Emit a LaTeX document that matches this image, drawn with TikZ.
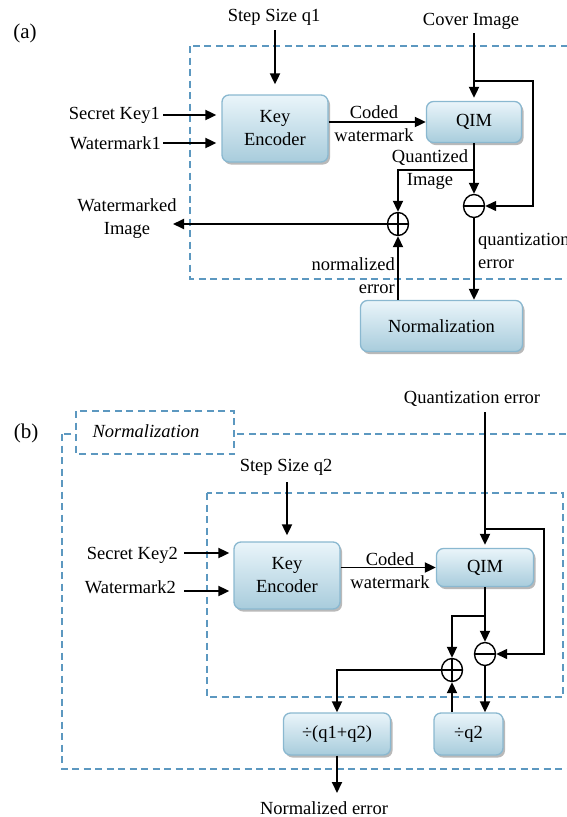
\documentclass[tikz,border=0pt]{standalone}
\usepackage{fontspec}
\setmainfont{Liberation Serif}
\usetikzlibrary{arrows.meta,shadows,calc,shapes.geometric}
\definecolor{dashblue}{RGB}{92,152,192}
\definecolor{boxtop}{RGB}{234,245,250}
\definecolor{boxbot}{RGB}{168,204,220}
\definecolor{boxborder}{RGB}{138,184,208}
\tikzset{
  arr/.style={line width=1.9pt,-{Triangle[length=11pt,width=10pt]}},
  fbarr/.style={line width=1.4pt,-{Triangle[length=11pt,width=10pt]}},
  blk/.style={draw=boxborder, line width=1.3pt, rounded corners=7pt,
    top color=boxtop, bottom color=boxbot,
    drop shadow={shadow xshift=2pt,shadow yshift=-2.5pt,opacity=0.5,fill=black!55},
    align=center, inner sep=0pt},
  dbox/.style={draw=dashblue, line width=1.7pt, dash pattern=on 7pt off 4.5pt},
  lbl/.style={inner sep=0pt, align=center},
  sumbase/.style={ellipse, draw, line width=1.4pt, minimum width=21pt, minimum height=23pt, inner sep=0pt, fill=white},
  sump/.style={sumbase, path picture={\draw[line width=1.4pt] (path picture bounding box.north) -- (path picture bounding box.south) (path picture bounding box.west) -- (path picture bounding box.east);}},
  summ/.style={sumbase, path picture={\draw[line width=1.4pt] (path picture bounding box.west) -- (path picture bounding box.east);}},
}
\begin{document}
\begin{tikzpicture}[x=1pt,y=-1pt, every node/.style={font=\fontsize{18.5}{23}\selectfont}]
\useasboundingbox (0,0) rectangle (567,817);

% ---------------- (a) ----------------
\node[lbl, font=\fontsize{21}{25}\selectfont] (la) at (25,33) {(a)};
\draw[dbox] (190,46) rectangle (600,279);

\node[blk, minimum width=106pt, minimum height=67pt] (ke1) at (275,128.5) {Key\\Encoder};
\node[blk, minimum width=95pt, minimum height=41pt] (qim1) at (474,122) {QIM};
\node[blk, minimum width=162pt, minimum height=51pt] (norm1) at (441.5,326) {Normalization};
\node[sump] (plus1) at (398,224) {};
\node[summ] (minus1) at (474,206) {};

\node[lbl] (ss1) at (274,17) {Step Size q1};
\node[lbl] (ci1) at (471,21) {Cover Image};
\node[lbl, anchor=east] (sk1) at (160,115) {Secret Key1};
\node[lbl, anchor=east] (wm1) at (161,143) {Watermark1};
\node[lbl] (cw1) at (374,123.5) {Coded\\watermark};
\node[lbl] (qi1) at (430,169.5) {Quantized\\Image};
\node[lbl] (wmi) at (127,218.5) {Watermarked\\Image};
\node[lbl, anchor=east, align=right] (ne1) at (395,276) {normalized\\error};
\node[lbl, anchor=west, align=left] (qe1) at (478,251) {quantization\\error};

\coordinate (ss1s) at (275,30);
\coordinate (ci1s) at (474,33);
\coordinate (sk1s) at (163,115);
\coordinate (wm1s) at (163,143);
\coordinate (fb1) at (474,81);
\coordinate (fb1r) at (533,81);
\coordinate (qb1) at (474,170);
\coordinate (wmo) at (173,224);

\draw[arr, shorten >=10pt] (ss1s) -- (ke1.north);
\draw[arr, shorten >=3pt] (ci1s) -- (qim1.north);
\draw[arr, shorten >=5pt] (sk1s) -- (sk1s -| ke1.west);
\draw[arr, shorten >=5pt] (wm1s) -- (wm1s -| ke1.west);
\draw[arr] (ke1.east |- qim1.west) -- (qim1.west);
\draw[fbarr] (fb1) -- (fb1r) |- (minus1.east);
\draw[arr] (qim1.south) -- (minus1.north);
\draw[arr] (qb1) -| (plus1.north);
\draw[arr] (plus1.west) -- (wmo);
\draw[arr] (plus1.south |- norm1.north) -- (plus1.south);
\draw[arr] (minus1.south) -- (minus1.south |- norm1.north);

% ---------------- (b) ----------------
\node[lbl, font=\fontsize{21}{25}\selectfont] (lb) at (26,433) {(b)};
\draw[dbox] (62,434) rectangle (600,769);
\draw[dbox, fill=white] (76,411) rectangle (234,454);
\node[lbl, font=\fontsize{18.5}{23}\selectfont\itshape] (tabt) at (146,431) {Normalization};
\draw[dbox] (207,493) rectangle (563,697);

\node[blk, minimum width=106pt, minimum height=67pt] (ke2) at (287,575.5) {Key\\Encoder};
\node[blk, minimum width=97pt, minimum height=38pt] (qim2) at (485,567.5) {QIM};
\node[sump] (plus2) at (452,670) {};
\node[summ] (minus2) at (485,654) {};
\node[blk, minimum width=107pt, minimum height=42pt] (div1) at (337,734) {÷(q1+q2)};
\node[blk, minimum width=69pt, minimum height=42pt] (div2) at (468.5,734) {÷q2};

\node[lbl] (qe2) at (472,399) {Quantization error};
\node[lbl] (ss2) at (286,467) {Step Size q2};
\node[lbl, anchor=east] (sk2) at (178,555) {Secret Key2};
\node[lbl, anchor=east] (wm2) at (176,587) {Watermark2};
\node[lbl] (cw2) at (390,571) {Coded\\watermark};
\node[lbl] (nerr) at (324,808) {Normalized error};

\coordinate (qe2s) at (485,412);
\coordinate (ss2s) at (287,482);
\coordinate (sk2s) at (184,553);
\coordinate (wm2s) at (184,591);
\coordinate (fb2) at (485,529);
\coordinate (fb2r) at (544,529);
\coordinate (qb2) at (485,616);
\coordinate (neo) at (337,793);

\draw[arr, shorten >=3pt] (qe2s) -- (qim2.north);
\draw[arr, shorten >=6pt] (ss2s) -- (ke2.north);
\draw[arr, shorten >=4pt] (sk2s) -- (sk2s -| ke2.west);
\draw[arr, shorten >=4pt] (wm2s) -- (wm2s -| ke2.west);
\draw[arr] (ke2.east |- qim2.west) -- (qim2.west);
\draw[fbarr] (fb2) -- (fb2r) |- (minus2.east);
\draw[arr] (qim2.south) -- (minus2.north);
\draw[arr] (qb2) -| (plus2.north);
\draw[arr] (plus2.west) -| (div1.north);
\draw[arr] (minus2.south) -- (minus2.south |- div2.north);
\draw[arr] (plus2.south |- div2.north) -- (plus2.south);
\draw[arr] (div1.south) -- (neo);
\end{tikzpicture}
\end{document}
